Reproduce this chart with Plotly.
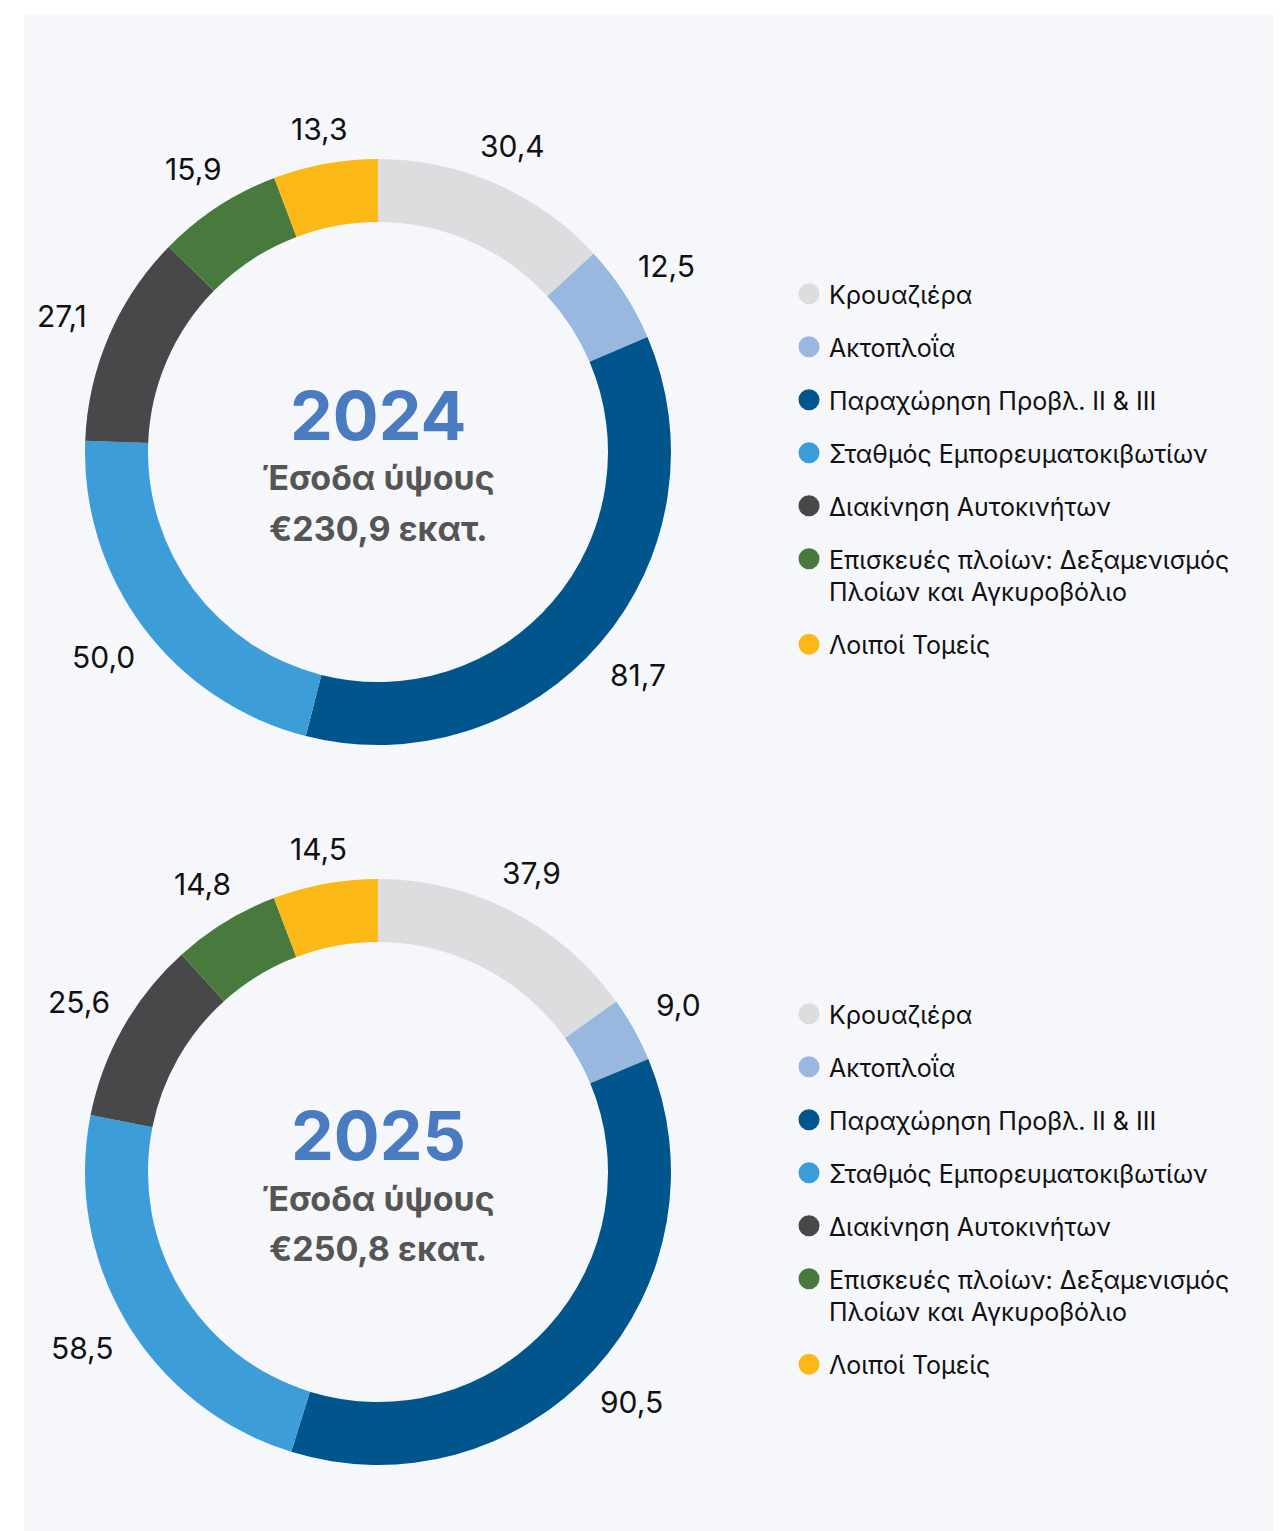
import math

import plotly.graph_objects as go

# ---- data ------------------------------------------------------------------
categories = [
    "Κρουαζιέρα",
    "Ακτοπλοΐα",
    "Παραχώρηση Προβλ. ΙΙ & ΙΙΙ",
    "Σταθμός Εμπορευματοκιβωτίων",
    "Διακίνηση Αυτοκινήτων",
    "Επισκευές πλοίων: Δεξαμενισμός<br>Πλοίων και Αγκυροβόλιο",
    "Λοιποί Τομείς",
]
colors = ["#dcdddf", "#98b8e0", "#00568c", "#3d9dd8", "#48484b", "#487a3d", "#fbb817"]

years = ["2024", "2025"]
values_2024 = [30.4, 12.5, 81.7, 50.0, 27.1, 15.9, 13.3]
values_2025 = [37.9, 9.0, 90.5, 58.5, 25.6, 14.8, 14.5]
totals = ["€230,9 εκατ.", "€250,8 εκατ."]

FONT = "Inter, 'Noto Sans', sans-serif"
# η σελίδα έχει περιθώριο body 8px -> το σχήμα είναι 8px μικρότερο
W, H = 1273, 1523

# κέντρα/ακτίνα ντόνατ σε pixel (συντεταγμένες σχήματος)
CX = 370
CYS = [444, 1164]
R = 293
LABEL_GAP = 18            # απόσταση ετικέτας από τον δακτύλιο
LABEL_HALF = (31, 12)     # μισό πλάτος / ύψος ετικέτας


def fmt(v: float) -> str:
    return f"{v:.1f}".replace(".", ",")


fig = go.Figure()

for i, (yr, vals) in enumerate(zip(years, [values_2024, values_2025])):
    cy = CYS[i]
    x0, x1 = (CX - R) / W, (CX + R) / W
    y0, y1 = 1 - (cy + R) / H, 1 - (cy - R) / H
    fig.add_trace(go.Pie(
        labels=categories, values=vals, sort=False, direction="clockwise",
        rotation=0, hole=0.785,
        marker=dict(colors=colors, line=dict(width=0)),
        textinfo="none",
        domain=dict(x=[x0, x1], y=[y0, y1]),
        showlegend=False, hoverinfo="label+value",
    ))

    # ετικέτες τιμών στο μέσο κάθε τομέα, έξω από τον δακτύλιο
    total = sum(vals)
    cum = 0.0
    for v in vals:
        th = math.radians(360 * (cum + v / 2) / total)
        cum += v
        s, c = math.sin(th), math.cos(th)
        r = R + LABEL_GAP + LABEL_HALF[0] * abs(s) + LABEL_HALF[1] * abs(c)
        fig.add_annotation(x=(CX + r * s) / W, y=1 - (cy - r * c) / H,
                           xref="paper", yref="paper", xanchor="center", yanchor="middle",
                           text=fmt(v), showarrow=False,
                           font=dict(size=30, color="#111111", family=FONT))

    # υπόμνημα με κύκλους (σκιώδη scatter)
    leg = "legend" if i == 0 else "legend2"
    for j, (cat, col) in enumerate(zip(categories, colors)):
        fig.add_trace(go.Scatter(
            x=[None], y=[None], mode="markers", name=cat,
            marker=dict(size=16, color=col, symbol="circle", line=dict(width=5, color=col)),
            legend=leg, legendgroup=f"{yr}-{j}", showlegend=True,
        ))

    ymid = 1 - cy / H
    center_txt = [
        (f"<b>{yr}</b>", 37, 68, "#4a7bc0"),
        ("<b>Έσοδα ύψους</b>", -26, 34, "#555555"),
        (f"<b>{totals[i]}</b>", -76, 34, "#555555"),
    ]
    for txt, shift, size, col in center_txt:
        fig.add_annotation(x=CX / W, y=ymid, xref="paper", yref="paper", yshift=shift,
                           xanchor="center", yanchor="middle",
                           text=txt, showarrow=False,
                           font=dict(size=size, color=col, family=FONT))

legend_style = dict(
    font=dict(size=25, color="#111111", family=FONT),
    bgcolor="rgba(0,0,0,0)", tracegroupgap=17.5, valign="top",
    xanchor="left", yanchor="top", itemclick=False, itemdoubleclick=False,
)
fig.update_layout(
    width=W, height=H,
    margin=dict(l=0, r=0, t=0, b=0),
    paper_bgcolor="white", plot_bgcolor="rgba(0,0,0,0)",
    xaxis=dict(visible=False), yaxis=dict(visible=False),
    legend=dict(x=781 / W, y=1 - 263 / H, **legend_style),
    legend2=dict(x=781 / W, y=1 - 983 / H, **legend_style),
    shapes=[dict(type="rect", xref="paper", yref="paper", x0=16 / W, x1=1, y0=0, y1=1 - 6 / H,
                 fillcolor="#f5f7fb", line=dict(width=0), layer="below")],
)

fig.write_html("out.html")
